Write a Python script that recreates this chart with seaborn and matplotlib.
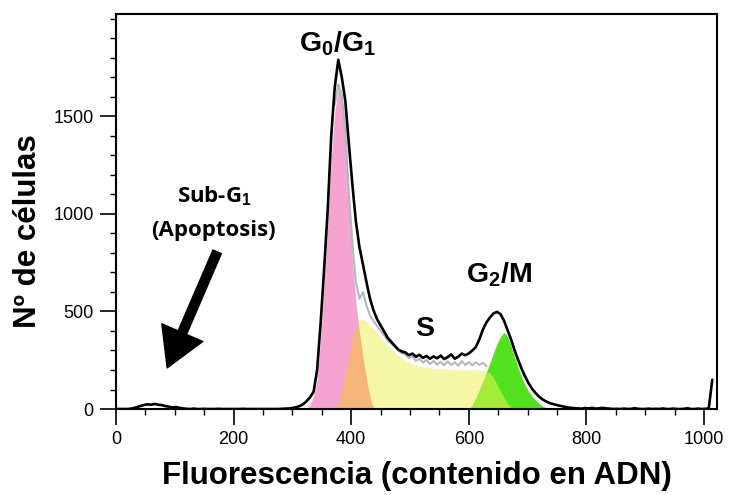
import numpy as np
import matplotlib
matplotlib.use("Agg")
import matplotlib.pyplot as plt
import seaborn as sns
from matplotlib.ticker import MultipleLocator

# ---------------------------------------------------------------
# DNA content histogram (propidium iodide), counts per channel bin
# ---------------------------------------------------------------
CHANNEL_STEP = 6

# Total measured histogram, channels 0 .. 1014
total_counts = [
    0, 0, 0, 0, 1, 5, 10, 16, 21, 24,
    22, 26, 22, 20, 15, 12, 8, 10, 6, 3,
    1, 0, 2, 0, 0, 1, 0, 0, 0, 1,
    0, 0, 0, 0, 0, 0, 1, 0, 0, 0,
    0, 0, 0, 0, 0, 0, 0, 1, 2, 3,
    5, 9, 15, 24, 40, 60, 88, 200, 440, 720,
    1020, 1400, 1650, 1790, 1700, 1580, 1360, 1150, 960, 830,
    740, 650, 565, 505, 460, 428, 395, 365, 345, 325,
    305, 295, 290, 276, 284, 268, 278, 262, 272, 258,
    270, 260, 274, 256, 266, 280, 258, 268, 284, 276,
    285, 300, 318, 358, 408, 444, 470, 490, 498, 486,
    452, 404, 355, 300, 250, 205, 165, 130, 102, 80,
    62, 48, 38, 30, 25, 20, 16, 12, 8, 6,
    4, 3, 2, 5, 3, 6, 2, 4, 6, 3,
    2, 0, 1, 0, 2, 0, 1, 4, 1, 0,
    0, 2, 0, 1, 0, 3, 0, 0, 2, 0,
    0, 1, 4, 0, 0, 2, 0, 1, 3, 150,
]
channels = np.arange(len(total_counts)) * CHANNEL_STEP

# Fitted cell-cycle components, channels 312 .. 744
component_start = 312
g1_counts = [
    0, 0, 4, 20, 65, 150, 350, 640, 940, 1280,
    1520, 1650, 1590, 1390, 1060, 760, 550, 390, 260, 150,
    55, 0, 0, 0, 0, 0, 0, 0, 0, 0,
    0, 0, 0, 0, 0, 0, 0, 0, 0, 0,
    0, 0, 0, 0, 0, 0, 0, 0, 0, 0,
    0, 0, 0, 0, 0, 0, 0, 0, 0, 0,
    0, 0, 0, 0, 0, 0, 0, 0, 0, 0,
    0, 0, 0,
]
s_counts = [
    0, 0, 0, 0, 0, 0, 0, 0, 0, 0,
    6, 35, 95, 175, 265, 360, 425, 455, 460, 448,
    430, 410, 390, 370, 350, 325, 307, 290, 275, 262,
    250, 240, 232, 226, 222, 218, 215, 212, 210, 208,
    207, 206, 205, 204, 204, 203, 203, 202, 202, 201,
    201, 200, 199, 196, 186, 160, 125, 90, 56, 27,
    8, 0, 0, 0, 0, 0, 0, 0, 0, 0,
    0, 0, 0,
]
g2_counts = [
    0, 0, 0, 0, 0, 0, 0, 0, 0, 0,
    0, 0, 0, 0, 0, 0, 0, 0, 0, 0,
    0, 0, 0, 0, 0, 0, 0, 0, 0, 0,
    0, 0, 0, 0, 0, 0, 0, 0, 0, 0,
    0, 0, 0, 0, 0, 0, 0, 0, 0, 22,
    55, 95, 140, 188, 238, 288, 335, 372, 393, 372,
    322, 266, 212, 162, 122, 90, 64, 44, 28, 15,
    5, 0, 0,
]
component_channels = component_start + np.arange(len(g1_counts)) * CHANNEL_STEP

# Sum-of-fit trace, channels 372 .. 630
trace_start = 372
trace_counts = [
    1560, 1665, 1610, 1430, 1110, 850, 650, 565, 600, 530,
    480, 450, 425, 400, 378, 350, 335, 318, 300, 286,
    280, 262, 270, 246, 258, 238, 252, 230, 246, 228,
    242, 224, 244, 226, 240, 222, 246, 226, 240, 224,
    240, 226, 236, 220,
]
trace_channels = trace_start + np.arange(len(trace_counts)) * CHANNEL_STEP

x_ticks = [0, 200, 400, 600, 800, 1000]
y_ticks = [0, 500, 1000, 1500]

# ---------------------------------------------------------------
sns.set_theme(style="ticks")
plt.rcParams["font.family"] = ["Liberation Sans", "DejaVu Sans"]
plt.rcParams["mathtext.fontset"] = "custom"
plt.rcParams["mathtext.rm"] = "Liberation Sans"
plt.rcParams["mathtext.bf"] = "Liberation Sans:bold"
plt.rcParams["mathtext.default"] = "bf"
plt.rcParams["text.color"] = "black"
plt.rcParams["axes.labelcolor"] = "black"
plt.rcParams["xtick.color"] = "black"
plt.rcParams["ytick.color"] = "black"

fig = plt.figure(figsize=(7.31, 4.95), dpi=100)
ax = fig.add_axes([0.1587, 0.1737, 0.9808 - 0.1587, 0.9717 - 0.1737])

pink = "#F5A3D0"
orange = "#F7B57A"
yellow = "#F6F7A4"
lime = "#A6EA3A"
green = "#52E31E"

g1 = np.array(g1_counts)
s = np.array(s_counts)
g2 = np.array(g2_counts)

ax.fill_between(component_channels, 0, s, color=yellow, lw=0)
ax.fill_between(component_channels, 0, g1, color=pink, lw=0)
ax.fill_between(component_channels, 0, g2, color=green, lw=0)
ax.fill_between(component_channels, 0, np.minimum(g1, s), color=orange, lw=0)
ax.fill_between(component_channels, 0, np.minimum(s, g2), color=lime, lw=0)

sns.lineplot(x=trace_channels, y=trace_counts, color="#AEB9C0", lw=1.5,
             estimator=None, ax=ax)
sns.lineplot(x=channels, y=total_counts, color="black", lw=1.9,
             estimator=None, ax=ax)

ax.set_xlim(0, 1022)
ax.set_ylim(0, 2025)
ax.set_xticks(x_ticks)
ax.set_yticks(y_ticks)
ax.xaxis.set_minor_locator(MultipleLocator(50))
ax.yaxis.set_minor_locator(MultipleLocator(100))
ax.tick_params(which="major", direction="out", length=11.5, width=1.2,
               pad=4.5, labelsize=13, colors="black")
ax.tick_params(which="minor", direction="out", length=4.3, width=1.0,
               colors="black")
ax.tick_params(top=False, right=False, which="both")
for sp in ax.spines.values():
    sp.set_visible(True)
    sp.set_color("black")
    sp.set_linewidth(1.5)

ax.set_xlabel("Fluorescencia (contenido en ADN)", fontsize=22.5,
              fontweight="bold")
ax.set_ylabel("Nº de células", fontsize=22.5, fontweight="bold")
ax.xaxis.set_label_coords(0.5, -0.1316)
ax.yaxis.set_label_coords(-0.122, 0.4506)

# Phase labels
ax.text(376, 1834, r"G$_0$/G$_1$", ha="center", va="baseline",
        fontsize=20.5, fontweight="bold")
ax.text(651, 647, r"G$_2$/M", ha="center", va="baseline",
        fontsize=20.5, fontweight="bold")
ax.text(525, 375, "S", ha="center", va="baseline",
        fontsize=20.5, fontweight="bold")
ax.text(168, 1058, r"Sub-G$_1$", ha="center", va="baseline",
        fontsize=16, fontweight="bold", family=["Open Sans", "DejaVu Sans"])
ax.text(165, 889, "(Apoptosis)", ha="center", va="baseline",
        fontsize=16, fontweight="bold", family=["Open Sans", "DejaVu Sans"])

ax.annotate("", xy=(87, 211), xytext=(172, 806), xycoords="data",
            arrowprops=dict(arrowstyle="simple,head_length=0.92,head_width=1.07,tail_width=0.22",
                            mutation_scale=30, color="black",
                            shrinkA=0, shrinkB=0))

fig.savefig("out.png", dpi=100)
